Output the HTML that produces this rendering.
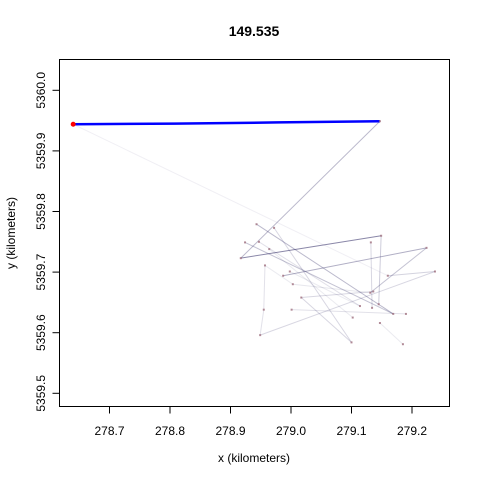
<!DOCTYPE html>
<html><head><meta charset="utf-8"><style>
html,body{margin:0;padding:0;background:#fff}
svg{display:block;font-family:"Liberation Sans",Arial,sans-serif}
</style></head><body>
<svg id="chart" width="480" height="480" viewBox="0 0 480 480">
<rect x="0" y="0" width="480" height="480" fill="#fff"/>
<text x="254" y="36" text-anchor="middle" font-size="14" font-weight="bold" fill="#000">149.535</text>
<g id="axes"></g>
<g id="segs"></g>
<g id="pts"></g>
<rect x="59.5" y="59.5" width="390" height="347" fill="none" stroke="#000" stroke-width="1"/>
<text x="254" y="462" text-anchor="middle" font-size="12" fill="#000">x (kilometers)</text>
<text transform="translate(15,233) rotate(-90)" text-anchor="middle" font-size="12" fill="#000">y (kilometers)</text>
</svg>
<script>
const xTicks = [278.7, 278.8, 278.9, 279.0, 279.1, 279.2];
const xTickLabels = ["278.7","278.8","278.9","279.0","279.1","279.2"];
const yTicks = [5359.5, 5359.6, 5359.7, 5359.8, 5359.9, 5360.0];
const yTickLabels = ["5359.5","5359.6","5359.7","5359.8","5359.9","5360.0"];
const ptX = [278.640,279.147,278.808,278.979,278.917,279.149,278.943,278.972,278.924,278.947,278.964,279.132,279.224,279.238,279.160,278.957,278.998,278.987,279.003,279.017,279.131,279.136,278.955,279.001,279.114,279.134,279.145,279.169,279.190,279.102,279.147,278.949,279.100,279.185];
const ptY = [5359.944,5359.949,5359.945,5359.947,5359.723,5359.760,5359.779,5359.773,5359.749,5359.750,5359.738,5359.749,5359.740,5359.701,5359.694,5359.711,5359.701,5359.694,5359.680,5359.658,5359.666,5359.668,5359.638,5359.638,5359.644,5359.641,5359.647,5359.631,5359.631,5359.625,5359.616,5359.596,5359.584,5359.581];
const segFrom = [0,1,4,6,8,7,5,11,17,12,14,13,31,22,19,23,19,33,9,10,16,20,15];
const segTo   = [14,4,5,27,27,32,26,25,12,20,13,31,22,15,21,28,32,30,24,29,24,18,18];
const segAlpha= [0.08,0.35,0.6,0.35,0.3,0.2,0.25,0.2,0.4,0.3,0.22,0.2,0.15,0.15,0.2,0.15,0.2,0.1,0.15,0.1,0.1,0.12,0.1];
const blueIdx = [0,2,3,1];

const NS="http://www.w3.org/2000/svg";
function sx(v){return 109.5+(v-278.7)*605;}
function sy(v){return 90.3-(v-5360.0)*606;}
function mk(tag,attrs,parent){const e=document.createElementNS(NS,tag);for(const k in attrs)e.setAttribute(k,attrs[k]);parent.appendChild(e);return e;}
const axes=document.getElementById('axes');
xTicks.forEach((t,i)=>{
  const x=sx(t);
  const l=mk('line',{x1:x,x2:x,y1:406.5,y2:413.5,stroke:'#000'},axes);
  
  
  const tx=mk('text',{x:x,y:435,'text-anchor':'middle','font-size':12},axes);
  tx.textContent=xTickLabels[i];
  
  
});
yTicks.forEach((t,i)=>{
  const y=sy(t);
  const l=mk('line',{x1:52.5,x2:59.5,y1:y,y2:y,stroke:'#000'},axes);
  
  
  const tx=mk('text',{transform:`translate(45,${y}) rotate(-90)`,'text-anchor':'middle','font-size':12},axes);
  tx.textContent=yTickLabels[i];
  
  
});
const segs=document.getElementById('segs');
segFrom.forEach((f,i)=>{
  const t=segTo[i];
  const l=mk('line',{x1:sx(ptX[f]),y1:sy(ptY[f]),x2:sx(ptX[t]),y2:sy(ptY[t]),stroke:'rgb(60,55,110)','stroke-opacity':segAlpha[i],'stroke-width':1},segs);
  
  
});
const bp=blueIdx.map(i=>sx(ptX[i])+','+sy(ptY[i])).join(' ');
const pl=mk('polyline',{points:bp,fill:'none',stroke:'#0000ff','stroke-width':2.5},segs);


const pts=document.getElementById('pts');
ptX.forEach((x,i)=>{
  if(i===2||i===3)return;
  const c=mk('rect',{x:sx(x)-1,y:sy(ptY[i])-1,width:2,height:2,fill:'#a07080','fill-opacity':0.8},pts);
  
  
});
const s=mk('circle',{cx:sx(ptX[0]),cy:sy(ptY[0]),r:2.5,fill:'#ff0000'},pts);


</script>
</body></html>
